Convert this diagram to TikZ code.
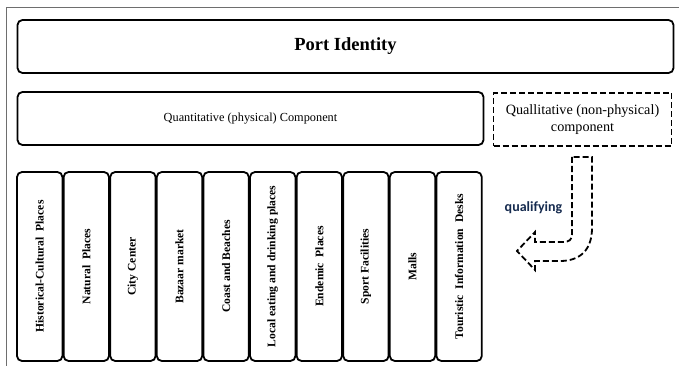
\documentclass[tikz,border=0pt]{standalone}
\usepackage{fontspec}
\setmainfont{Liberation Serif}
\newfontfamily\labelsans{Carlito}
\definecolor{framegray}{RGB}{110,110,110}
\definecolor{navytext}{RGB}{23,44,80}
\begin{document}
\begin{tikzpicture}[x=1pt,y=-1pt,
  panel/.style={draw=black, line width=1.8pt, rounded corners=5pt, inner sep=0pt},
  dashpanel/.style={draw=black, line width=1.8pt, dash pattern=on 6pt off 3pt, inner sep=0pt},
  column/.style={panel, rotate=90, minimum width=189pt, minimum height=45.4pt,
    font=\fontsize{11.6}{13}\selectfont\bfseries},
  dasharrow/.style={draw=black, line width=1.8pt, dash pattern=on 6pt off 3pt, line join=miter}]
  \useasboundingbox (0,0) rectangle (679,366);
  \fill[white] (0,0) rectangle (679,366);
  % outer frame (only top and left edges fall inside the page)
  \draw[framegray, line width=1pt] (6,366) -- (6,8) -- (679,8);

  % top level
  \node[panel, minimum width=656pt, minimum height=53pt,
        font=\fontsize{18.5}{20}\selectfont\bfseries] (port) at (345.5,46.5) {Port Identity};

  % the two components
  \node[panel, minimum width=466pt, minimum height=53pt,
        font=\fontsize{12.3}{14}\selectfont] (quant) at (250.5,118.5) {Quantitative (physical) Component};
  \node[dashpanel, minimum width=178pt, minimum height=53pt, align=center,
        font=\fontsize{14.2}{17.5}\selectfont] (qual) at (582.5,119.5) {Quallitative (non-physical)\\component};

  % physical elements
  \foreach \t [count=\i] in {Historical-Cultural\ \ Places, Natural\ \ Places, City Center,
      Bazaar market, Coast and Beaches, Local eating and drinking places,
      Endemic\ \ Places, Sport Facilities, Malls, Touristic\ \ Information\ \ Desks}
    \node[column] (c\i) at ({17+22.7+(\i-1)*46.6}, 266.5) {\t};

  % qualifying arrow from the qualitative component
  \coordinate (arrowtop) at (582,157);
  \draw[dasharrow] (572,157) -- (572,234) .. controls (572,240) and (569,242) .. (563,242)
    -- (535,242) -- (535,232) -- (517,251) -- (535,270) -- (535,261) -- (560,261)
    .. controls (580,261) and (592,250) .. (592,228) -- (592,157) -- cycle;
  \node[font=\labelsans\fontsize{14}{16}\selectfont\bfseries, text=navytext, inner sep=0pt]
    (qlab) at (533.5,208) {qualifying};
\end{tikzpicture}
\end{document}
